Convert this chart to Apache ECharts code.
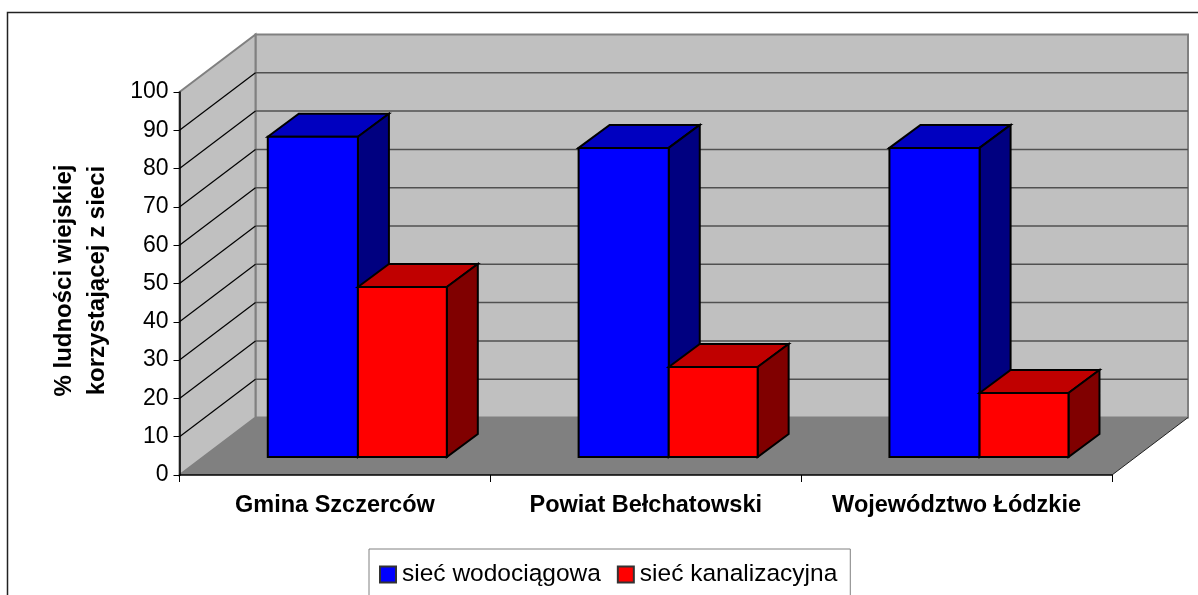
<!DOCTYPE html>
<html>
<head>
<meta charset="utf-8">
<title>Sieci</title>
<script src="https://cdn.jsdelivr.net/npm/echarts@6/dist/echarts.min.js"></script>
<style>
html, body { margin: 0; padding: 0; background: #fff; overflow: hidden; }
#main { width: 1198px; height: 595px; }
</style>
</head>
<body>
<div id="main"></div>
<script>
const categories = ['Gmina Szczerców', 'Powiat Bełchatowski', 'Województwo Łódzkie'];
const siecWodociagowa = [83.6, 80.7, 80.7];
const siecKanalizacyjna = [44.4, 23.5, 16.7];
const wallTicks = [10, 20, 30, 40, 50, 60, 70, 80, 90, 100];

// pseudo 3d offsets, in px
const wallDx = 76, wallDy = -57.5;
const barDx = 31, barDy = -23;
const frontDx = 23, frontDy = -18;
const font = '"Liberation Sans", Arial, sans-serif';

let myChart = echarts.init(document.getElementById('main'), null, { renderer: 'canvas' });

function poly(points, fill, stroke, lineWidth) {
  return {
    type: 'polygon',
    shape: { points: points },
    style: { fill: fill, stroke: stroke, lineWidth: lineWidth || 0 }
  };
}

function wallLine(x1, y1, x2, y2, color, width) {
  return {
    type: 'line',
    shape: { x1: x1, y1: y1, x2: x2, y2: y2 },
    style: { stroke: color, lineWidth: width }
  };
}

function renderWalls(params, api) {
  let band = api.size([1, 0])[0];
  let o = api.coord([0, 0]);
  let t = api.coord([0, 100]);
  let x0 = o[0] - band / 2;
  let x1 = x0 + band * categories.length;
  let y0 = o[1], y1 = t[1];
  let bx0 = x0 + wallDx, bx1 = x1 + wallDx;
  let items = [
    poly([[bx0, y1 + wallDy], [bx1, y1 + wallDy], [bx1, y0 + wallDy], [bx0, y0 + wallDy]], '#c0c0c0', '#808080', 2),
    poly([[x0, y1], [bx0, y1 + wallDy], [bx0, y0 + wallDy], [x0, y0]], '#c0c0c0', '#808080', 2),
    poly([[x0, y0], [bx0, y0 + wallDy], [bx1, y0 + wallDy], [x1, y0]], '#808080', null, 0),
    wallLine(x1, y0, bx1, y0 + wallDy, '#222', 1)
  ];
  wallTicks.forEach(function (v) {
    let y = api.coord([0, v])[1];
    if (v < 100) {
      items.push(wallLine(bx0, y + wallDy, bx1, y + wallDy, '#505050', 1.5));
      items.push(wallLine(x0, y, bx0, y + wallDy, '#000', 1.2));
    }
  });
  return { type: 'group', children: items };
}

function renderBar(colors, side, widthShare) {
  return function (params, api) {
    let band = api.size([1, 0])[0];
    let w = band * widthShare;
    let base = api.coord([api.value(0), 0]);
    let top = api.coord([api.value(0), api.value(1)]);
    let left = base[0] + frontDx + (side < 0 ? -w : 0);
    let right = left + w;
    let y0 = base[1] + frontDy;
    let y1 = top[1] + frontDy;
    return {
      type: 'group',
      children: [
        poly([[left, y1], [left + barDx, y1 + barDy], [right + barDx, y1 + barDy], [right, y1]], colors[1], '#000', 2),
        poly([[right, y1], [right + barDx, y1 + barDy], [right + barDx, y0 + barDy], [right, y0]], colors[2], '#000', 2),
        poly([[left, y1], [right, y1], [right, y0], [left, y0]], colors[0], '#000', 2)
      ]
    };
  };
}

let option = {
  animation: false,
  backgroundColor: '#fff',
  textStyle: { fontFamily: font, color: '#000' },
  graphic: [{
    type: 'rect',
    silent: true,
    shape: { x: 7.5, y: 12.5, width: 1300, height: 700 },
    style: { fill: null, stroke: '#222', lineWidth: 1.5 }
  }],
  grid: { left: 179.5, top: 92, width: 932.5, height: 383 },
  legend: {
    left: 369,
    top: 549,
    padding: [13, 13, 12, 10],
    icon: 'rect',
    itemWidth: 16,
    itemHeight: 16,
    itemGap: 16,
    borderColor: '#808080',
    borderWidth: 1,
    textStyle: { fontFamily: font, fontSize: 24.5, color: '#000', padding: [0, 0, 0, 1] },
    data: ['sieć wodociągowa', 'sieć kanalizacyjna']
  },
  xAxis: {
    type: 'category',
    data: categories,
    z: 10,
    axisLine: { lineStyle: { color: '#000', width: 1.5 } },
    axisTick: { show: true, alignWithLabel: false, length: 7, interval: 0, lineStyle: { color: '#000' } },
    axisLabel: { fontFamily: font, fontSize: 23.5, fontWeight: 'bold', color: '#000', margin: 19, interval: 0 },
    splitLine: { show: false }
  },
  yAxis: {
    type: 'value',
    min: 0,
    max: 100,
    interval: 10,
    z: 10,
    name: '% ludności wiejskiej\nkorzystającej z sieci',
    nameLocation: 'middle',
    nameGap: 66,
    nameRotate: 90,
    nameTextStyle: { fontFamily: font, fontSize: 24, fontWeight: 'bold', color: '#000', lineHeight: 33, padding: [0, 0, 0, 6] },
    axisLine: { show: true, lineStyle: { color: '#000', width: 1.5 } },
    axisTick: { show: true, length: 6, lineStyle: { color: '#000' } },
    axisLabel: { fontFamily: font, fontSize: 23, color: '#000', margin: 11, padding: [2, 0, 0, 0] },
    splitLine: { show: false }
  },
  series: [
    {
      type: 'custom',
      name: 'walls',
      silent: true,
      z: 1,
      renderItem: renderWalls,
      data: [[0, 0]]
    },
    {
      type: 'custom',
      name: 'sieć wodociągowa',
      z: 2,
      itemStyle: { color: '#0000ff', borderColor: '#333', borderWidth: 2 },
      renderItem: renderBar(['#0000ff', '#0000c0', '#000080'], -1, 0.29),
      data: siecWodociagowa.map(function (v, i) { return [i, v]; })
    },
    {
      type: 'custom',
      name: 'sieć kanalizacyjna',
      z: 3,
      itemStyle: { color: '#ff0000', borderColor: '#333', borderWidth: 2 },
      renderItem: renderBar(['#ff0000', '#c00000', '#800000'], 1, 0.286),
      data: siecKanalizacyjna.map(function (v, i) { return [i, v]; })
    }
  ]
};
myChart.setOption(option);
</script>
</body>
</html>
